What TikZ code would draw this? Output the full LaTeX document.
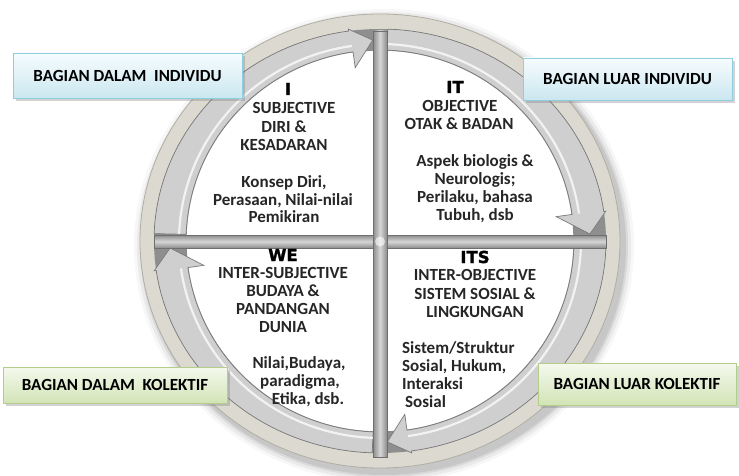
\documentclass[tikz,border=0pt]{standalone}
\usepackage{fontspec}
\setmainfont{Carlito}
\newfontfamily\heavyfont{DejaVu Sans}[BoldFeatures={FakeBold=1.6}]
\usetikzlibrary{shadows}
\definecolor{ringbeige}{HTML}{DCDAD0}
\definecolor{ringedge}{HTML}{B0AEA4}
\definecolor{bandbg}{HTML}{8E8E8E}
\definecolor{arrowfill}{HTML}{CFCFCF}
\definecolor{arrowedge}{HTML}{7A7A7A}
\definecolor{qedge}{HTML}{8A8A8A}
\definecolor{bargray}{HTML}{8C8C8C}
\definecolor{barlight}{HTML}{D6D6D6}
\definecolor{bardark}{HTML}{6E6E6E}
\definecolor{qtext}{HTML}{262626}
\definecolor{bluetop}{HTML}{F6FCFE}
\definecolor{bluebot}{HTML}{CBE7F0}
\definecolor{blueedge}{HTML}{8FCDE0}
\definecolor{greentop}{HTML}{F5F9EE}
\definecolor{greenbot}{HTML}{D2E4B6}
\definecolor{greenedge}{HTML}{B3CE8A}
\newcommand\ringarrow[2]{%
  \pgfmathsetmacro\hb{#2+6}%
  \filldraw[fill=arrowfill, draw=arrowedge, line width=0.7pt]
    plot[domain=#1:\hb, samples=40] ({380+226*cos(\x)},{241-212*sin(\x)})
    -- ({380+228*cos(\hb)},{241-214*sin(\hb)})
    -- ({380+210*cos(#2)},{241-201*sin(#2)})
    -- ({380+178*cos(\hb)},{241-175*sin(\hb)})
    -- plot[domain=\hb:#1, samples=40] ({380+194*cos(\x)},{241-191*sin(\x)})
    -- cycle;
  \draw[white, opacity=0.75, line width=2.2pt]
    plot[domain=#1:\hb, samples=40] ({380+201*cos(\x)},{241-197*sin(\x)});
}
\begin{document}
\begin{tikzpicture}[x=1pt, y=-1pt,
  qt/.style={anchor=base, inner sep=0pt, text=qtext,
    font=\fontsize{17}{19}\selectfont\bfseries},
  qtitle/.style={anchor=base, inner sep=0pt, text=black,
    font=\heavyfont\fontsize{16.5}{18}\selectfont\bfseries},
  labelbox/.style={line width=0.9pt, inner sep=0pt, text=black,
    font=\fontsize{17}{19}\selectfont\bfseries,
    drop shadow={shadow xshift=3pt, shadow yshift=-3pt, opacity=0.35}},
  bluebox/.style={labelbox, top color=bluetop, bottom color=bluebot, draw=blueedge},
  greenbox/.style={labelbox, top color=greentop, bottom color=greenbot, draw=greenedge}]
\useasboundingbox (0,0) rectangle (739,476);
\fill[white] (0,0) rectangle (739,476);
% soft shadow of the wheel
\foreach \k/\op in {10/0.03,7/0.05,4/0.07,2/0.08}
  \fill[black, opacity=\op] (384,246) ellipse [x radius={240+\k}, y radius={227+\k}];
% outer ring
\filldraw[fill=ringbeige, draw=ringedge, line width=0.8pt] (380,241) ellipse [x radius=240, y radius=227];
\fill[bandbg] (380,241) ellipse [x radius=226, y radius=212];
% inner white disc
\filldraw[fill=white, draw=qedge, line width=1.2pt] (380,241) ellipse [x radius=194, y radius=191];
% arrows (clockwise)
\ringarrow{178}{92}
\ringarrow{88}{2}
\ringarrow{-2}{-88}
\ringarrow{-92}{-178}
% cross bars
\shadedraw[top color=bargray, bottom color=bargray, middle color=barlight, draw=bardark, line width=0.5pt]
  (154,235) rectangle (606,248);
\shadedraw[left color=bargray, right color=bargray, middle color=barlight, draw=bardark, line width=0.5pt]
  (373,31) rectangle (387,457);
\fill[white, opacity=0.6] (380,241.5) circle (5);
% quadrant I
\node[qtitle] (ti) at (288,95) {I};
\node[qt] (i1) at (294,114) {SUBJECTIVE};
\node[qt] (i2) at (284,133) {DIRI \&};
\node[qt] (i3) at (284,151) {KESADARAN};
\node[qt] (i4) at (284,187) {Konsep Diri,};
\node[qt] (i5) at (283,205) {Perasaan, Nilai-nilai};
\node[qt] (i6) at (284,222) {Pemikiran};
% quadrant IT
\node[qtitle] (tit) at (455,93) {IT};
\node[qt] (it1) at (460,112) {OBJECTIVE};
\node[qt] (it2) at (459,130) {OTAK \& BADAN};
\node[qt] (it3) at (475,167) {Aspek biologis \&};
\node[qt] (it4) at (475,185) {Neurologis;};
\node[qt] (it5) at (475,202) {Perilaku, bahasa};
\node[qt] (it6) at (475,220) {Tubuh, dsb};
% quadrant WE
\node[qtitle] (twe) at (283,261) {WE};
\node[qt] (we1) at (283,278) {INTER-SUBJECTIVE};
\node[qt] (we2) at (283,296) {BUDAYA \&};
\node[qt] (we3) at (283,314) {PANDANGAN};
\node[qt] (we4) at (283,332) {DUNIA};
\node[qt] (we5) at (299,368) {Nilai,Budaya,};
\node[qt] (we6) at (300,386) {paradigma,};
\node[qt] (we7) at (308,404) {Etika, dsb.};
% quadrant ITS
\node[qtitle] (tits) at (475,263) {ITS};
\node[qt] (its1) at (475,280) {INTER-OBJECTIVE};
\node[qt] (its2) at (475,299) {SISTEM SOSIAL \&};
\node[qt] (its3) at (475,317) {LINGKUNGAN};
\node[qt, anchor=base west] (its4) at (402,353) {Sistem/Struktur};
\node[qt, anchor=base west] (its5) at (402,371) {Sosial, Hukum,};
\node[qt, anchor=base west] (its6) at (402,389) {Interaksi};
\node[qt, anchor=base west] (its7) at (405,407) {Sosial};
% label boxes
\node[bluebox, minimum width=229pt, minimum height=45pt] (bdi) at (127.5,75.5) {BAGIAN DALAM\ \ INDIVIDU};
\node[bluebox, minimum width=209pt, minimum height=42pt] (bli) at (627.5,79) {BAGIAN LUAR INDIVIDU};
\node[greenbox, minimum width=224pt, minimum height=36pt] (bdk) at (115,385) {BAGIAN DALAM\ \ KOLEKTIF};
\node[greenbox, minimum width=198pt, minimum height=42pt] (blk) at (637,384) {BAGIAN LUAR KOLEKTIF};
\end{tikzpicture}
\end{document}
